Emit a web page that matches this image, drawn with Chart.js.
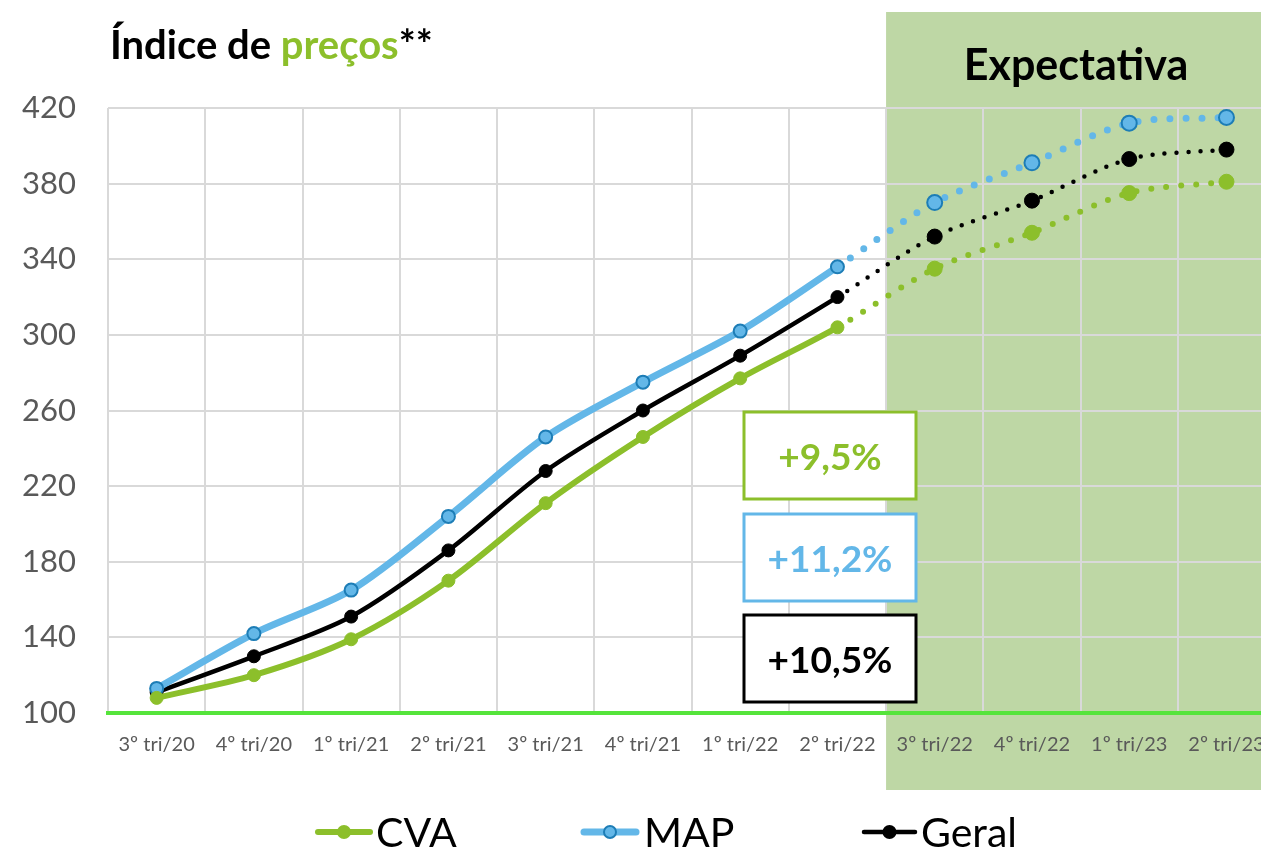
<!DOCTYPE html>
<html>
<head>
<meta charset="utf-8">
<script src="https://cdn.jsdelivr.net/npm/chart.js@4"></script>
<style>
  html, body { margin: 0; padding: 0; background: #fff; overflow: hidden; }
  #wrap { width: 1285px; height: 848px; position: relative; }
</style>
</head>
<body>
<div id="wrap"><canvas id="chart"></canvas></div>
<script>
// dados
const categorias = ['3º tri/20', '4º tri/20', '1º tri/21', '2º tri/21', '3º tri/21', '4º tri/21',
                    '1º tri/22', '2º tri/22', '3º tri/22', '4º tri/22', '1º tri/23', '2º tri/23'];
const cva   = [108, 120, 139, 170, 211, 246, 277, 304, 335, 354, 375, 381];
const map   = [113, 142, 165, 204, 246, 275, 302, 336, 370, 391, 412, 415];
const geral = [111, 130, 151, 186, 228, 260, 289, 320, 352, 371, 393, 398];
const yTicks = [100, 140, 180, 220, 260, 300, 340, 380, 420];
const variacoes = ['+9,5%', '+11,2%', '+10,5%'];
const inicioExpectativa = 8; // primeiro trimestre projetado

const VERDE = '#8CBF2B';
const AZUL = '#63B7E8';
const AZUL_BORDA = '#1D7DB6';
const FONTE = 'Lato, "Open Sans", sans-serif';

function pontilhado(gap) {
    return ctx => ctx.p1DataIndex >= inicioExpectativa ? [0, gap] : undefined;
}
function raio(ctx) {
    return ctx.dataIndex >= inicioExpectativa ? 7.5 : 6.5;
}

// fundo verde da expectativa + textos
const extras = {
    id: 'extras',
    beforeDraw(chart) {
        const c = chart.ctx;
        const x = chart.scales.x;
        const x0 = (x.getPixelForValue(inicioExpectativa - 1) + x.getPixelForValue(inicioExpectativa)) / 2;
        c.save();
        c.fillStyle = '#BED7A5';
        c.fillRect(x0, 12, chart.width - x0, 778);
        c.fillStyle = '#000';
        c.font = 'bold 43px ' + FONTE;
        c.textAlign = 'center';
        c.textBaseline = 'alphabetic';
        c.fillText('Expectativa', 1076, 80);
        c.restore();
    },
    afterDraw(chart) {
        const c = chart.ctx;
        c.save();
        // título
        c.font = 'bold 40px ' + FONTE;
        c.textBaseline = 'alphabetic';
        c.textAlign = 'left';
        c.fillStyle = '#000';
        c.fillText('Índice de ', 110, 59);
        let w = c.measureText('Índice de ').width;
        c.fillStyle = VERDE;
        c.fillText('preços', 110 + w, 59);
        w += c.measureText('preços').width;
        c.fillStyle = '#000';
        c.fillText('**', 110 + w, 59);

        // caixas de variação
        const cores = [VERDE, AZUL, '#000'];
        const topos = [412, 514, 615];
        c.lineWidth = 3;
        c.textAlign = 'center';
        c.textBaseline = 'middle';
        c.font = 'bold 37px ' + FONTE;
        variacoes.forEach((txt, i) => {
            c.fillStyle = '#fff';
            c.fillRect(744, topos[i], 172, 87);
            c.strokeStyle = cores[i];
            c.strokeRect(744, topos[i], 172, 87);
            c.fillStyle = cores[i];
            c.fillText(txt, 830, topos[i] + 46);
        });

        // legenda
        const itens = [
            { ds: chart.data.datasets[0], x1: 318, x2: 370, tx: 376 },
            { ds: chart.data.datasets[1], x1: 584, x2: 636, tx: 644 },
            { ds: chart.data.datasets[2], x1: 864, x2: 915, tx: 921 }
        ];
        const ly = 832;
        itens.forEach(it => {
            c.strokeStyle = it.ds.borderColor;
            c.lineWidth = it.ds.borderWidth;
            c.lineCap = 'round';
            c.beginPath();
            c.moveTo(it.x1, ly);
            c.lineTo(it.x2, ly);
            c.stroke();
            c.beginPath();
            c.arc((it.x1 + it.x2) / 2, ly, 6, 0, Math.PI * 2);
            c.fillStyle = it.ds.pointBackgroundColor;
            c.fill();
            c.lineWidth = 2;
            c.strokeStyle = it.ds.pointBorderColor;
            c.stroke();
            c.fillStyle = '#000';
            c.font = '41px ' + FONTE;
            c.textAlign = 'left';
            c.textBaseline = 'alphabetic';
            c.fillText(it.ds.label, it.tx, 847);
        });
        c.restore();
    }
};

new Chart(document.getElementById('chart'), {
    type: 'line',
    data: {
        labels: categorias,
        datasets: [
            {
                label: 'CVA', data: cva,
                borderColor: VERDE, borderWidth: 6,
                pointBackgroundColor: VERDE, pointBorderColor: VERDE, pointBorderWidth: 1,
                pointRadius: raio, tension: 0.3, borderCapStyle: 'round',
                segment: { borderDash: pontilhado(15) }
            },
            {
                label: 'MAP', data: map,
                borderColor: AZUL, borderWidth: 7,
                pointBackgroundColor: AZUL, pointBorderColor: AZUL_BORDA, pointBorderWidth: 2,
                pointRadius: raio, tension: 0.3, borderCapStyle: 'round',
                segment: { borderDash: pontilhado(16) }
            },
            {
                label: 'Geral', data: geral,
                borderColor: '#000', borderWidth: 4.5,
                pointBackgroundColor: '#000', pointBorderColor: '#000', pointBorderWidth: 1,
                pointRadius: raio, tension: 0.3, borderCapStyle: 'round',
                segment: { borderDash: pontilhado(12) }
            }
        ]
    },
    options: {
        responsive: true,
        maintainAspectRatio: false,
        animation: false,
        layout: { padding: { top: 108, right: 3, left: 0, bottom: 0 } },
        plugins: { legend: { display: false }, tooltip: { enabled: false } },
        scales: {
            x: {
                offset: true,
                grid: { color: '#D9D9D9', lineWidth: 2, offset: true, drawTicks: false },
                border: { color: '#55E43B', width: 4 },
                ticks: { color: '#595959', font: { family: FONTE, size: 20 }, padding: 20, maxRotation: 0, autoSkip: false },
                afterFit: s => { s.height = 135; }
            },
            y: {
                min: 100, max: 420,
                afterBuildTicks: s => { s.ticks = yTicks.map(v => ({ value: v })); },
                grid: { color: '#D9D9D9', lineWidth: 2, drawTicks: false },
                border: { display: false },
                ticks: { color: '#595959', font: { family: FONTE, size: 31 }, padding: 32 },
                afterFit: s => { s.width = 108; }
            }
        }
    },
    plugins: [extras]
});
</script>
</body>
</html>
